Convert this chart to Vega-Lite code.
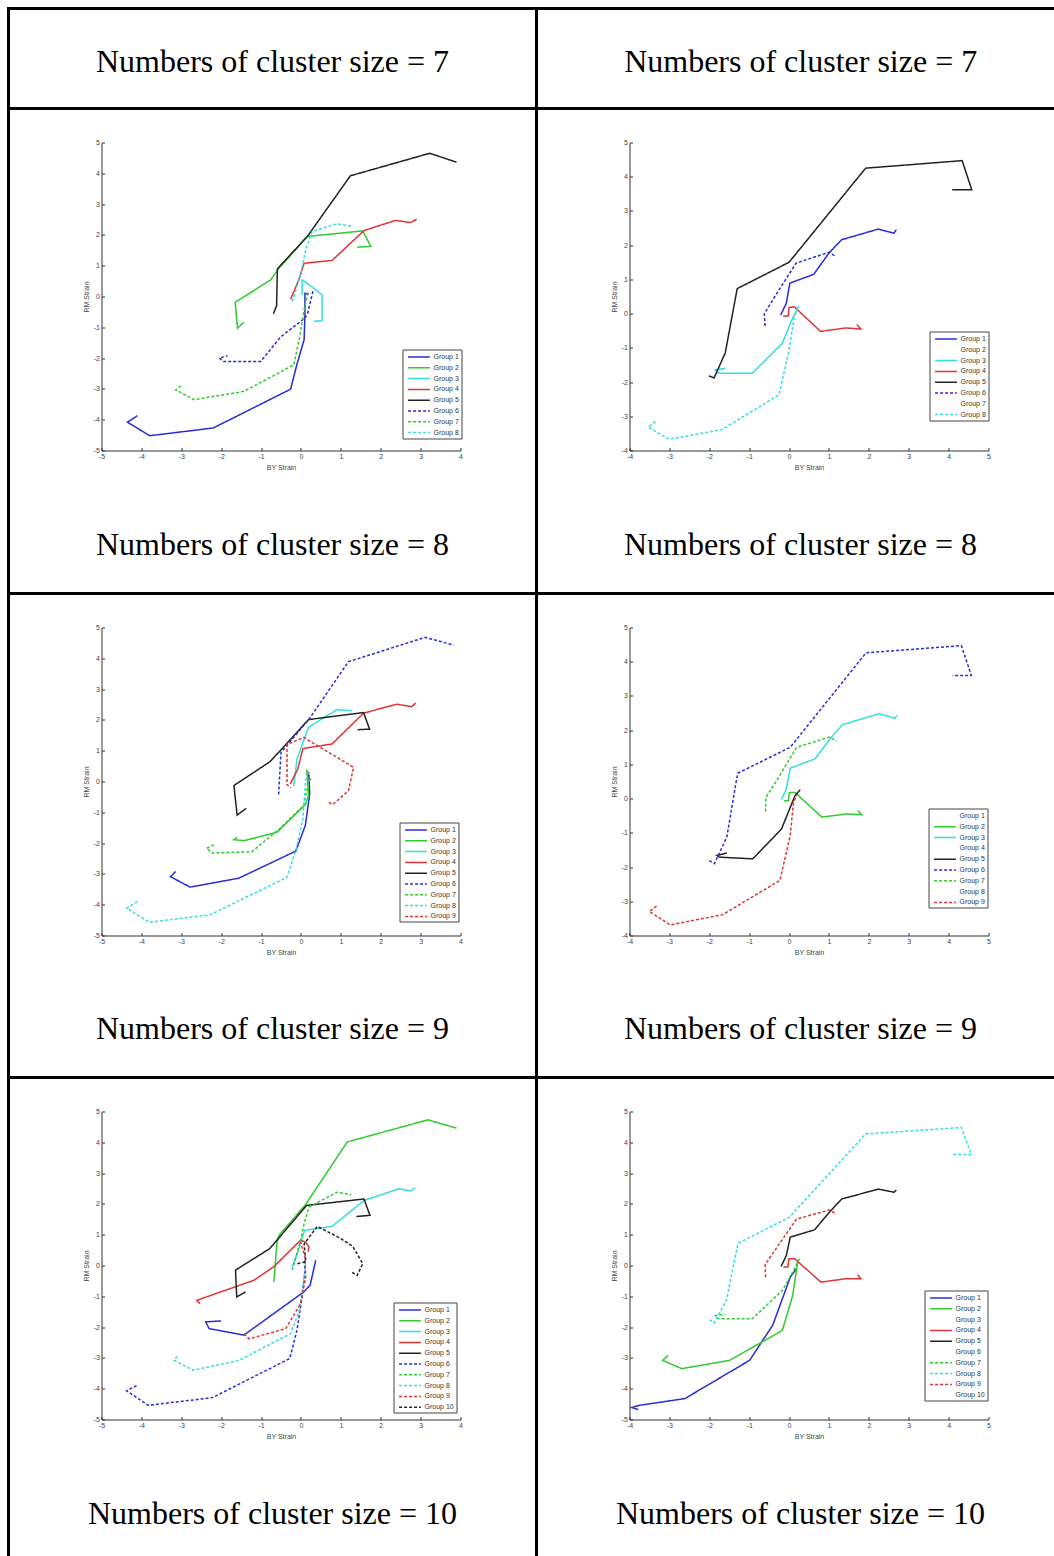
{
  "$schema": "https://vega.github.io/schema/vega-lite/v6.json",
  "padding": {"left": 6.5, "top": 6.5, "right": 0, "bottom": 0},
  "background": "white",
  "datasets": {
    "A": [
      {"g":"Group 1","x":-4.1,"y":-3.87},{"g":"Group 1","x":-4.35,"y":-4.08},{"g":"Group 1","x":-3.79,"y":-4.52},{"g":"Group 1","x":-2.2,"y":-4.27},{"g":"Group 1","x":-0.26,"y":-3.01},{"g":"Group 1","x":-0.1,"y":-2.2},{"g":"Group 1","x":0.08,"y":-1.4},{"g":"Group 1","x":0.1,"y":-0.6},{"g":"Group 1","x":0.1,"y":0.1},{"g":"Group 1","x":0.2,"y":0.08},
      {"g":"Group 2","x":-1.43,"y":-0.83},{"g":"Group 2","x":-1.59,"y":-1.03},{"g":"Group 2","x":-1.65,"y":-0.19},{"g":"Group 2","x":-0.76,"y":0.54},{"g":"Group 2","x":-0.55,"y":0.92},{"g":"Group 2","x":0.16,"y":1.95},{"g":"Group 2","x":1.55,"y":2.13},{"g":"Group 2","x":1.75,"y":1.63},{"g":"Group 2","x":1.41,"y":1.6},
      {"g":"Group 3","x":0.03,"y":0.05},{"g":"Group 3","x":0.03,"y":0.54},{"g":"Group 3","x":0.32,"y":0.27},{"g":"Group 3","x":0.53,"y":0.05},{"g":"Group 3","x":0.53,"y":-0.78},{"g":"Group 3","x":0.32,"y":-0.81},
      {"g":"Group 4","x":-0.26,"y":-0.09},{"g":"Group 4","x":-0.05,"y":0.55},{"g":"Group 4","x":0.08,"y":1.08},{"g":"Group 4","x":0.78,"y":1.17},{"g":"Group 4","x":1.58,"y":2.14},{"g":"Group 4","x":2.37,"y":2.47},{"g":"Group 4","x":2.75,"y":2.4},{"g":"Group 4","x":2.9,"y":2.51},
      {"g":"Group 5","x":-0.69,"y":-0.56},{"g":"Group 5","x":-0.61,"y":-0.3},{"g":"Group 5","x":-0.59,"y":0.9},{"g":"Group 5","x":0.16,"y":1.95},{"g":"Group 5","x":1.24,"y":3.92},{"g":"Group 5","x":3.23,"y":4.65},{"g":"Group 5","x":3.9,"y":4.36},
      {"g":"Group 6","x":0.3,"y":0.17},{"g":"Group 6","x":0.17,"y":-0.54},{"g":"Group 6","x":0.1,"y":-0.7},{"g":"Group 6","x":-0.5,"y":-1.3},{"g":"Group 6","x":-1.01,"y":-2.11},{"g":"Group 6","x":-1.93,"y":-2.11},{"g":"Group 6","x":-2.05,"y":-2.0},{"g":"Group 6","x":-1.84,"y":-1.93},
      {"g":"Group 7","x":-3.01,"y":-2.9},{"g":"Group 7","x":-3.14,"y":-3.03},{"g":"Group 7","x":-2.68,"y":-3.35},{"g":"Group 7","x":-1.43,"y":-3.08},{"g":"Group 7","x":-0.18,"y":-2.22},{"g":"Group 7","x":-0.03,"y":-1.3},{"g":"Group 7","x":0.08,"y":-0.43},{"g":"Group 7","x":0.18,"y":0.16},
      {"g":"Group 8","x":-0.22,"y":-0.16},{"g":"Group 8","x":-0.02,"y":0.65},{"g":"Group 8","x":0.12,"y":1.52},{"g":"Group 8","x":0.28,"y":2.11},{"g":"Group 8","x":0.91,"y":2.36},{"g":"Group 8","x":1.26,"y":2.29}
    ],
    "B": [
      {"g":"Group 1","x":-0.21,"y":-0.04},{"g":"Group 1","x":-0.07,"y":0.3},{"g":"Group 1","x":0.02,"y":0.89},{"g":"Group 1","x":0.62,"y":1.15},{"g":"Group 1","x":1.0,"y":1.77},{"g":"Group 1","x":1.32,"y":2.16},{"g":"Group 1","x":2.24,"y":2.47},{"g":"Group 1","x":2.63,"y":2.35},{"g":"Group 1","x":2.69,"y":2.45},
      {"g":"Group 3","x":0.25,"y":0.23},{"g":"Group 3","x":0.1,"y":-0.1},{"g":"Group 3","x":-0.17,"y":-0.87},{"g":"Group 3","x":-0.92,"y":-1.74},{"g":"Group 3","x":-1.76,"y":-1.74},{"g":"Group 3","x":-1.85,"y":-1.65},{"g":"Group 3","x":-1.6,"y":-1.6},
      {"g":"Group 4","x":-0.15,"y":-0.07},{"g":"Group 4","x":-0.02,"y":-0.07},{"g":"Group 4","x":0.0,"y":0.18},{"g":"Group 4","x":0.13,"y":0.2},{"g":"Group 4","x":0.79,"y":-0.52},{"g":"Group 4","x":1.42,"y":-0.42},{"g":"Group 4","x":1.8,"y":-0.45},{"g":"Group 4","x":1.7,"y":-0.32},
      {"g":"Group 5","x":-2.01,"y":-1.82},{"g":"Group 5","x":-1.88,"y":-1.88},{"g":"Group 5","x":-1.6,"y":-1.15},{"g":"Group 5","x":-1.3,"y":0.73},{"g":"Group 5","x":0.0,"y":1.5},{"g":"Group 5","x":1.92,"y":4.25},{"g":"Group 5","x":4.34,"y":4.47},{"g":"Group 5","x":4.58,"y":3.62},{"g":"Group 5","x":4.09,"y":3.62},
      {"g":"Group 6","x":-0.6,"y":-0.36},{"g":"Group 6","x":-0.62,"y":0.0},{"g":"Group 6","x":-0.33,"y":0.55},{"g":"Group 6","x":0.18,"y":1.48},{"g":"Group 6","x":1.0,"y":1.79},{"g":"Group 6","x":1.18,"y":1.67},
      {"g":"Group 8","x":-3.35,"y":-3.15},{"g":"Group 8","x":-3.53,"y":-3.32},{"g":"Group 8","x":-3.01,"y":-3.67},{"g":"Group 8","x":-1.68,"y":-3.39},{"g":"Group 8","x":-0.25,"y":-2.37},{"g":"Group 8","x":0.0,"y":-1.06},{"g":"Group 8","x":0.13,"y":-0.09},{"g":"Group 8","x":0.21,"y":0.16}
    ],
    "C": [
      {"g":"Group 1","x":-3.14,"y":-2.92},{"g":"Group 1","x":-3.27,"y":-3.09},{"g":"Group 1","x":-2.78,"y":-3.43},{"g":"Group 1","x":-1.56,"y":-3.14},{"g":"Group 1","x":-0.13,"y":-2.26},{"g":"Group 1","x":0.11,"y":-1.43},{"g":"Group 1","x":0.22,"y":-0.4},{"g":"Group 1","x":0.2,"y":0.2},{"g":"Group 1","x":0.15,"y":0.25},
      {"g":"Group 2","x":-1.6,"y":-1.81},{"g":"Group 2","x":-1.68,"y":-1.89},{"g":"Group 2","x":-1.43,"y":-1.92},{"g":"Group 2","x":-0.6,"y":-1.65},{"g":"Group 2","x":0.11,"y":-0.75},{"g":"Group 2","x":0.19,"y":-0.46},{"g":"Group 2","x":0.15,"y":0.35},{"g":"Group 2","x":0.22,"y":0.25},
      {"g":"Group 3","x":-0.18,"y":-0.15},{"g":"Group 3","x":-0.1,"y":0.73},{"g":"Group 3","x":0.19,"y":1.76},{"g":"Group 3","x":0.9,"y":2.33},{"g":"Group 3","x":1.28,"y":2.3},
      {"g":"Group 4","x":-0.27,"y":-0.08},{"g":"Group 4","x":-0.08,"y":0.4},{"g":"Group 4","x":0.05,"y":1.07},{"g":"Group 4","x":0.78,"y":1.22},{"g":"Group 4","x":1.57,"y":2.22},{"g":"Group 4","x":2.4,"y":2.51},{"g":"Group 4","x":2.78,"y":2.43},{"g":"Group 4","x":2.88,"y":2.55},
      {"g":"Group 5","x":-1.37,"y":-0.87},{"g":"Group 5","x":-1.6,"y":-1.09},{"g":"Group 5","x":-1.68,"y":-0.13},{"g":"Group 5","x":-0.78,"y":0.64},{"g":"Group 5","x":-0.52,"y":1.0},{"g":"Group 5","x":0.19,"y":2.01},{"g":"Group 5","x":1.57,"y":2.24},{"g":"Group 5","x":1.72,"y":1.7},{"g":"Group 5","x":1.42,"y":1.68},
      {"g":"Group 6","x":-0.56,"y":-0.42},{"g":"Group 6","x":-0.5,"y":0.95},{"g":"Group 6","x":0.19,"y":2.0},{"g":"Group 6","x":1.19,"y":3.89},{"g":"Group 6","x":3.11,"y":4.68},{"g":"Group 6","x":3.83,"y":4.43},
      {"g":"Group 7","x":-2.18,"y":-2.06},{"g":"Group 7","x":-2.37,"y":-2.17},{"g":"Group 7","x":-2.23,"y":-2.32},{"g":"Group 7","x":-1.23,"y":-2.28},{"g":"Group 7","x":-0.55,"y":-1.55},{"g":"Group 7","x":0.07,"y":-0.78},{"g":"Group 7","x":0.19,"y":-0.02},{"g":"Group 7","x":0.28,"y":0.14},
      {"g":"Group 8","x":-4.1,"y":-3.9},{"g":"Group 8","x":-4.37,"y":-4.11},{"g":"Group 8","x":-3.81,"y":-4.57},{"g":"Group 8","x":-2.28,"y":-4.33},{"g":"Group 8","x":-0.35,"y":-3.11},{"g":"Group 8","x":-0.12,"y":-2.2},{"g":"Group 8","x":0.05,"y":-1.2},{"g":"Group 8","x":0.1,"y":-0.3},{"g":"Group 8","x":0.12,"y":0.1},
      {"g":"Group 9","x":0.7,"y":-0.68},{"g":"Group 9","x":0.8,"y":-0.75},{"g":"Group 9","x":1.19,"y":-0.3},{"g":"Group 9","x":1.32,"y":0.46},{"g":"Group 9","x":0.07,"y":1.43},{"g":"Group 9","x":-0.35,"y":1.2},{"g":"Group 9","x":-0.35,"y":-0.1},{"g":"Group 9","x":-0.25,"y":-0.2}
    ],
    "D": [
      {"g":"Group 2","x":-0.13,"y":-0.06},{"g":"Group 2","x":-0.02,"y":-0.06},{"g":"Group 2","x":0.01,"y":0.18},{"g":"Group 2","x":0.15,"y":0.18},{"g":"Group 2","x":0.82,"y":-0.54},{"g":"Group 2","x":1.44,"y":-0.45},{"g":"Group 2","x":1.82,"y":-0.47},{"g":"Group 2","x":1.73,"y":-0.35},
      {"g":"Group 3","x":-0.19,"y":-0.03},{"g":"Group 3","x":-0.07,"y":0.28},{"g":"Group 3","x":0.03,"y":0.89},{"g":"Group 3","x":0.65,"y":1.16},{"g":"Group 3","x":1.03,"y":1.75},{"g":"Group 3","x":1.34,"y":2.16},{"g":"Group 3","x":2.26,"y":2.48},{"g":"Group 3","x":2.65,"y":2.35},{"g":"Group 3","x":2.71,"y":2.43},
      {"g":"Group 5","x":0.28,"y":0.26},{"g":"Group 5","x":0.15,"y":0.09},{"g":"Group 5","x":-0.19,"y":-0.89},{"g":"Group 5","x":-0.91,"y":-1.76},{"g":"Group 5","x":-1.75,"y":-1.71},{"g":"Group 5","x":-1.81,"y":-1.66},{"g":"Group 5","x":-1.56,"y":-1.59},
      {"g":"Group 6","x":-2.0,"y":-1.81},{"g":"Group 6","x":-1.87,"y":-1.9},{"g":"Group 6","x":-1.56,"y":-1.12},{"g":"Group 6","x":-1.29,"y":0.74},{"g":"Group 6","x":0.03,"y":1.5},{"g":"Group 6","x":1.93,"y":4.26},{"g":"Group 6","x":4.32,"y":4.47},{"g":"Group 6","x":4.57,"y":3.6},{"g":"Group 6","x":4.1,"y":3.6},
      {"g":"Group 7","x":-0.59,"y":-0.38},{"g":"Group 7","x":-0.58,"y":0.04},{"g":"Group 7","x":-0.31,"y":0.53},{"g":"Group 7","x":0.19,"y":1.5},{"g":"Group 7","x":1.02,"y":1.8},{"g":"Group 7","x":1.19,"y":1.67},
      {"g":"Group 9","x":-3.32,"y":-3.14},{"g":"Group 9","x":-3.5,"y":-3.3},{"g":"Group 9","x":-2.98,"y":-3.69},{"g":"Group 9","x":-1.66,"y":-3.39},{"g":"Group 9","x":-0.23,"y":-2.39},{"g":"Group 9","x":0.03,"y":-1.08},{"g":"Group 9","x":0.11,"y":-0.11},{"g":"Group 9","x":0.19,"y":0.09}
    ],
    "E": [
      {"g":"Group 1","x":-2.0,"y":-1.8},{"g":"Group 1","x":-2.39,"y":-1.83},{"g":"Group 1","x":-2.3,"y":-2.05},{"g":"Group 1","x":-1.43,"y":-2.26},{"g":"Group 1","x":0.07,"y":-0.86},{"g":"Group 1","x":0.23,"y":-0.64},{"g":"Group 1","x":0.37,"y":0.17},
      {"g":"Group 2","x":-0.68,"y":-0.53},{"g":"Group 2","x":-0.6,"y":0.75},{"g":"Group 2","x":-0.55,"y":0.98},{"g":"Group 2","x":0.1,"y":1.95},{"g":"Group 2","x":1.16,"y":4.01},{"g":"Group 2","x":3.18,"y":4.73},{"g":"Group 2","x":3.9,"y":4.46},
      {"g":"Group 3","x":-0.22,"y":-0.04},{"g":"Group 3","x":-0.09,"y":0.39},{"g":"Group 3","x":0.09,"y":1.14},{"g":"Group 3","x":0.78,"y":1.27},{"g":"Group 3","x":1.58,"y":2.11},{"g":"Group 3","x":2.45,"y":2.49},{"g":"Group 3","x":2.75,"y":2.42},{"g":"Group 3","x":2.87,"y":2.52},
      {"g":"Group 4","x":-2.53,"y":-1.24},{"g":"Group 4","x":-2.61,"y":-1.13},{"g":"Group 4","x":-1.18,"y":-0.48},{"g":"Group 4","x":-0.68,"y":-0.04},{"g":"Group 4","x":-0.01,"y":0.82},{"g":"Group 4","x":0.12,"y":0.76},{"g":"Group 4","x":0.2,"y":0.6},{"g":"Group 4","x":0.18,"y":0.45},
      {"g":"Group 5","x":-1.39,"y":-0.86},{"g":"Group 5","x":-1.61,"y":-1.02},{"g":"Group 5","x":-1.64,"y":-0.15},{"g":"Group 5","x":-0.78,"y":0.55},{"g":"Group 5","x":-0.55,"y":0.9},{"g":"Group 5","x":0.14,"y":1.95},{"g":"Group 5","x":1.58,"y":2.16},{"g":"Group 5","x":1.73,"y":1.63},{"g":"Group 5","x":1.39,"y":1.59},
      {"g":"Group 6","x":-4.12,"y":-3.9},{"g":"Group 6","x":-4.37,"y":-4.07},{"g":"Group 6","x":-3.83,"y":-4.54},{"g":"Group 6","x":-2.22,"y":-4.29},{"g":"Group 6","x":-0.28,"y":-3.02},{"g":"Group 6","x":-0.1,"y":-2.1},{"g":"Group 6","x":0.03,"y":-1.02},{"g":"Group 6","x":0.1,"y":-0.2},{"g":"Group 6","x":0.1,"y":0.17},
      {"g":"Group 7","x":-0.22,"y":-0.15},{"g":"Group 7","x":-0.12,"y":0.3},{"g":"Group 7","x":-0.01,"y":0.82},{"g":"Group 7","x":0.08,"y":1.36},{"g":"Group 7","x":0.2,"y":1.9},{"g":"Group 7","x":0.91,"y":2.38},{"g":"Group 7","x":1.26,"y":2.3},
      {"g":"Group 8","x":-3.1,"y":-2.95},{"g":"Group 8","x":-3.18,"y":-3.08},{"g":"Group 8","x":-2.7,"y":-3.4},{"g":"Group 8","x":-1.55,"y":-3.08},{"g":"Group 8","x":-0.26,"y":-2.21},{"g":"Group 8","x":-0.05,"y":-1.5},{"g":"Group 8","x":0.05,"y":-0.7},{"g":"Group 8","x":0.12,"y":0.1},
      {"g":"Group 9","x":-1.43,"y":-2.22},{"g":"Group 9","x":-1.3,"y":-2.38},{"g":"Group 9","x":-0.38,"y":-2.05},{"g":"Group 9","x":-0.01,"y":-1.24},{"g":"Group 9","x":0.12,"y":-0.37},{"g":"Group 9","x":0.1,"y":0.3},{"g":"Group 9","x":-0.01,"y":0.76},
      {"g":"Group 10","x":-0.09,"y":0.06},{"g":"Group 10","x":0.12,"y":0.12},{"g":"Group 10","x":0.08,"y":0.7},{"g":"Group 10","x":0.41,"y":1.27},{"g":"Group 10","x":0.99,"y":0.88},{"g":"Group 10","x":1.3,"y":0.62},{"g":"Group 10","x":1.55,"y":0.06},{"g":"Group 10","x":1.41,"y":-0.32},{"g":"Group 10","x":1.26,"y":-0.2}
    ],
    "F": [
      {"g":"Group 1","x":-3.78,"y":-4.68},{"g":"Group 1","x":-3.94,"y":-4.61},{"g":"Group 1","x":-3.75,"y":-4.54},{"g":"Group 1","x":-2.61,"y":-4.32},{"g":"Group 1","x":-0.99,"y":-3.08},{"g":"Group 1","x":-0.41,"y":-1.94},{"g":"Group 1","x":0.03,"y":-0.38},{"g":"Group 1","x":0.18,"y":-0.11},
      {"g":"Group 2","x":-3.03,"y":-2.92},{"g":"Group 2","x":-3.17,"y":-3.08},{"g":"Group 2","x":-2.69,"y":-3.35},{"g":"Group 2","x":-1.49,"y":-3.08},{"g":"Group 2","x":-0.17,"y":-2.11},{"g":"Group 2","x":0.09,"y":-0.98},{"g":"Group 2","x":0.22,"y":0.14},
      {"g":"Group 4","x":-0.14,"y":-0.05},{"g":"Group 4","x":-0.03,"y":-0.05},{"g":"Group 4","x":0.0,"y":0.22},{"g":"Group 4","x":0.14,"y":0.22},{"g":"Group 4","x":0.8,"y":-0.54},{"g":"Group 4","x":1.42,"y":-0.43},{"g":"Group 4","x":1.8,"y":-0.43},{"g":"Group 4","x":1.72,"y":-0.3},
      {"g":"Group 5","x":-0.2,"y":-0.03},{"g":"Group 5","x":-0.07,"y":0.32},{"g":"Group 5","x":0.03,"y":0.92},{"g":"Group 5","x":0.64,"y":1.16},{"g":"Group 5","x":1.01,"y":1.73},{"g":"Group 5","x":1.32,"y":2.16},{"g":"Group 5","x":2.24,"y":2.48},{"g":"Group 5","x":2.63,"y":2.38},{"g":"Group 5","x":2.69,"y":2.45},
      {"g":"Group 7","x":0.26,"y":0.22},{"g":"Group 7","x":0.09,"y":-0.22},{"g":"Group 7","x":-0.17,"y":-0.81},{"g":"Group 7","x":-0.92,"y":-1.73},{"g":"Group 7","x":-1.78,"y":-1.73},{"g":"Group 7","x":-1.85,"y":-1.63},{"g":"Group 7","x":-1.6,"y":-1.58},
      {"g":"Group 8","x":-1.99,"y":-1.76},{"g":"Group 8","x":-1.88,"y":-1.87},{"g":"Group 8","x":-1.57,"y":-1.13},{"g":"Group 8","x":-1.28,"y":0.72},{"g":"Group 8","x":0.01,"y":1.57},{"g":"Group 8","x":1.92,"y":4.27},{"g":"Group 8","x":4.32,"y":4.48},{"g":"Group 8","x":4.57,"y":3.6},{"g":"Group 8","x":4.09,"y":3.6},
      {"g":"Group 9","x":-0.59,"y":-0.38},{"g":"Group 9","x":-0.6,"y":0.03},{"g":"Group 9","x":-0.33,"y":0.54},{"g":"Group 9","x":0.19,"y":1.51},{"g":"Group 9","x":1.01,"y":1.8},{"g":"Group 9","x":1.19,"y":1.67}
    ]
  },
  "columns": 2,
  "spacing": 0,
  "bounds": "flush",
  "resolve": {"scale": {"color": "independent", "strokeDash": "independent"}, "legend": {"color": "independent", "strokeDash": "independent"}},
  "concat": [
    {"width": 528, "height": 100, "data": {"values": [{"t": "Numbers of cluster size = 7"}]}, "mark": {"type": "text", "font": "Liberation Serif", "fontSize": 32, "baseline": "middle", "align": "center", "color": "black"}, "encoding": {"text": {"field": "t"}, "x": {"datum": 0.5, "type": "quantitative", "scale": {"domain": [0, 1]}, "axis": null}, "y": {"datum": 0.47, "type": "quantitative", "scale": {"domain": [0, 1]}, "axis": null}}},
    {"width": 520, "height": 100, "data": {"values": [{"t": "Numbers of cluster size = 7"}]}, "mark": {"type": "text", "font": "Liberation Serif", "fontSize": 32, "baseline": "middle", "align": "center", "color": "black"}, "encoding": {"text": {"field": "t"}, "x": {"datum": 0.508, "type": "quantitative", "scale": {"domain": [0, 1]}, "axis": null}, "y": {"datum": 0.47, "type": "quantitative", "scale": {"domain": [0, 1]}, "axis": null}}},
    {
      "width": 528, "height": 485, "data": {"name": "A"},
      "title": {"text": "Numbers of cluster size = 8"},
      "mark": {"type": "line", "strokeWidth": 1.5},
      "encoding": {
        "x": {"field": "x", "type": "quantitative", "scale": {"domain": [-5, 4], "range": [93, 452], "nice": false, "zero": false}, "axis": {"title": "BY Strain", "values": [-5,-4,-3,-2,-1,0,1,2,3,4], "offset": -143}},
        "y": {"field": "y", "type": "quantitative", "scale": {"domain": [-5, 5], "range": [342, 34], "nice": false, "zero": false}, "axis": {"title": "RM Strain", "values": [-5,-4,-3,-2,-1,0,1,2,3,4,5], "offset": -93}},
        "color": {"field": "g", "type": "nominal", "scale": {"domain": ["Group 1","Group 2","Group 3","Group 4","Group 5","Group 6","Group 7","Group 8"], "range": ["#2b2bd6","#2ecc2e","#33dede","#e03333","#222222","#2b2bd6","#2ecc2e","#33dede"]}, "legend": {"orient": "none", "legendX": 394, "legendY": 241, "title": null}},
        "strokeDash": {"field": "g", "type": "nominal", "scale": {"domain": ["Group 1","Group 2","Group 3","Group 4","Group 5","Group 6","Group 7","Group 8"], "range": [[1,0],[1,0],[1,0],[1,0],[1,0],[3,2],[3,2],[3,2]]}, "legend": {"orient": "none", "legendX": 394, "legendY": 241, "title": null}},
        "order": {"value": null}
      }
    },
    {
      "width": 520, "height": 485, "data": {"name": "B"},
      "title": {"text": "Numbers of cluster size = 8", "dx": 4},
      "mark": {"type": "line", "strokeWidth": 1.5},
      "encoding": {
        "x": {"field": "x", "type": "quantitative", "scale": {"domain": [-4, 5], "range": [93, 452], "nice": false, "zero": false}, "axis": {"title": "BY Strain", "values": [-4,-3,-2,-1,0,1,2,3,4,5], "offset": -143}},
        "y": {"field": "y", "type": "quantitative", "scale": {"domain": [-4, 5], "range": [342, 34], "nice": false, "zero": false}, "axis": {"title": "RM Strain", "values": [-4,-3,-2,-1,0,1,2,3,4,5], "offset": -93}},
        "color": {"field": "g", "type": "nominal", "scale": {"domain": ["Group 1","Group 2","Group 3","Group 4","Group 5","Group 6","Group 7","Group 8"], "range": ["#2b2bd6","#ffffff","#33dede","#e03333","#222222","#2b2bd6","#ffffff","#33dede"]}, "legend": {"orient": "none", "legendX": 393, "legendY": 223, "title": null}},
        "strokeDash": {"field": "g", "type": "nominal", "scale": {"domain": ["Group 1","Group 2","Group 3","Group 4","Group 5","Group 6","Group 7","Group 8"], "range": [[1,0],[1,0],[1,0],[1,0],[1,0],[3,2],[3,2],[3,2]]}, "legend": {"orient": "none", "legendX": 393, "legendY": 223, "title": null}},
        "order": {"value": null}
      }
    },
    {
      "width": 528, "height": 484, "data": {"name": "C"},
      "title": {"text": "Numbers of cluster size = 9"},
      "mark": {"type": "line", "strokeWidth": 1.5},
      "encoding": {
        "x": {"field": "x", "type": "quantitative", "scale": {"domain": [-5, 4], "range": [93, 452], "nice": false, "zero": false}, "axis": {"title": "BY Strain", "values": [-5,-4,-3,-2,-1,0,1,2,3,4], "offset": -142}},
        "y": {"field": "y", "type": "quantitative", "scale": {"domain": [-5, 5], "range": [342, 34], "nice": false, "zero": false}, "axis": {"title": "RM Strain", "values": [-5,-4,-3,-2,-1,0,1,2,3,4,5], "offset": -93}},
        "color": {"field": "g", "type": "nominal", "scale": {"domain": ["Group 1","Group 2","Group 3","Group 4","Group 5","Group 6","Group 7","Group 8","Group 9"], "range": ["#2b2bd6","#2ecc2e","#33dede","#e03333","#222222","#2b2bd6","#2ecc2e","#33dede","#e03333"]}, "legend": {"orient": "none", "legendX": 391, "legendY": 229, "title": null}},
        "strokeDash": {"field": "g", "type": "nominal", "scale": {"domain": ["Group 1","Group 2","Group 3","Group 4","Group 5","Group 6","Group 7","Group 8","Group 9"], "range": [[1,0],[1,0],[1,0],[1,0],[1,0],[3,2],[3,2],[3,2],[3,2]]}, "legend": {"orient": "none", "legendX": 391, "legendY": 229, "title": null}},
        "order": {"value": null}
      }
    },
    {
      "width": 520, "height": 484, "data": {"name": "D"},
      "title": {"text": "Numbers of cluster size = 9", "dx": 4},
      "mark": {"type": "line", "strokeWidth": 1.5},
      "encoding": {
        "x": {"field": "x", "type": "quantitative", "scale": {"domain": [-4, 5], "range": [93, 452], "nice": false, "zero": false}, "axis": {"title": "BY Strain", "values": [-4,-3,-2,-1,0,1,2,3,4,5], "offset": -142}},
        "y": {"field": "y", "type": "quantitative", "scale": {"domain": [-4, 5], "range": [342, 34], "nice": false, "zero": false}, "axis": {"title": "RM Strain", "values": [-4,-3,-2,-1,0,1,2,3,4,5], "offset": -93}},
        "color": {"field": "g", "type": "nominal", "scale": {"domain": ["Group 1","Group 2","Group 3","Group 4","Group 5","Group 6","Group 7","Group 8","Group 9"], "range": ["#ffffff","#2ecc2e","#33dede","#ffffff","#222222","#2b2bd6","#2ecc2e","#ffffff","#e03333"]}, "legend": {"orient": "none", "legendX": 392, "legendY": 215, "title": null}},
        "strokeDash": {"field": "g", "type": "nominal", "scale": {"domain": ["Group 1","Group 2","Group 3","Group 4","Group 5","Group 6","Group 7","Group 8","Group 9"], "range": [[1,0],[1,0],[1,0],[1,0],[1,0],[3,2],[3,2],[3,2],[3,2]]}, "legend": {"orient": "none", "legendX": 392, "legendY": 215, "title": null}},
        "order": {"value": null}
      }
    },
    {
      "width": 528, "height": 485, "data": {"name": "E"},
      "title": {"text": "Numbers of cluster size = 10"},
      "mark": {"type": "line", "strokeWidth": 1.5},
      "encoding": {
        "x": {"field": "x", "type": "quantitative", "scale": {"domain": [-5, 4], "range": [93, 452], "nice": false, "zero": false}, "axis": {"title": "BY Strain", "values": [-5,-4,-3,-2,-1,0,1,2,3,4], "offset": -143}},
        "y": {"field": "y", "type": "quantitative", "scale": {"domain": [-5, 5], "range": [342, 34], "nice": false, "zero": false}, "axis": {"title": "RM Strain", "values": [-5,-4,-3,-2,-1,0,1,2,3,4,5], "offset": -93}},
        "color": {"field": "g", "type": "nominal", "scale": {"domain": ["Group 1","Group 2","Group 3","Group 4","Group 5","Group 6","Group 7","Group 8","Group 9","Group 10"], "range": ["#2b2bd6","#2ecc2e","#33dede","#e03333","#222222","#2b2bd6","#2ecc2e","#33dede","#e03333","#222222"]}, "legend": {"orient": "none", "legendX": 385, "legendY": 225, "title": null}},
        "strokeDash": {"field": "g", "type": "nominal", "scale": {"domain": ["Group 1","Group 2","Group 3","Group 4","Group 5","Group 6","Group 7","Group 8","Group 9","Group 10"], "range": [[1,0],[1,0],[1,0],[1,0],[1,0],[3,2],[3,2],[3,2],[3,2],[3,2]]}, "legend": {"orient": "none", "legendX": 385, "legendY": 225, "title": null}},
        "order": {"value": null}
      }
    },
    {
      "width": 520, "height": 485, "data": {"name": "F"},
      "title": {"text": "Numbers of cluster size = 10", "dx": 4},
      "mark": {"type": "line", "strokeWidth": 1.5},
      "encoding": {
        "x": {"field": "x", "type": "quantitative", "scale": {"domain": [-4, 5], "range": [93, 452], "nice": false, "zero": false}, "axis": {"title": "BY Strain", "values": [-4,-3,-2,-1,0,1,2,3,4,5], "offset": -143}},
        "y": {"field": "y", "type": "quantitative", "scale": {"domain": [-5, 5], "range": [342, 34], "nice": false, "zero": false}, "axis": {"title": "RM Strain", "values": [-5,-4,-3,-2,-1,0,1,2,3,4,5], "offset": -93}},
        "color": {"field": "g", "type": "nominal", "scale": {"domain": ["Group 1","Group 2","Group 3","Group 4","Group 5","Group 6","Group 7","Group 8","Group 9","Group 10"], "range": ["#2b2bd6","#2ecc2e","#ffffff","#e03333","#222222","#ffffff","#2ecc2e","#33dede","#e03333","#ffffff"]}, "legend": {"orient": "none", "legendX": 388, "legendY": 213, "title": null}},
        "strokeDash": {"field": "g", "type": "nominal", "scale": {"domain": ["Group 1","Group 2","Group 3","Group 4","Group 5","Group 6","Group 7","Group 8","Group 9","Group 10"], "range": [[1,0],[1,0],[1,0],[1,0],[1,0],[3,2],[3,2],[3,2],[3,2],[3,2]]}, "legend": {"orient": "none", "legendX": 388, "legendY": 213, "title": null}},
        "order": {"value": null}
      }
    }
  ],
  "config": {
    "view": {"stroke": "black", "strokeWidth": 3},
    "axis": {"grid": false, "domainColor": "#333333", "tickColor": "#333333", "tickSize": -3, "labelPadding": 5, "labelFontSize": 7, "labelFont": "Liberation Sans", "labelColor": "#444444", "labelFlush": false, "labelOverlap": false, "labelExpr": "'' + datum.value", "titleFont": "Liberation Sans", "titleFontSize": 7, "titleFontWeight": "normal", "titleColor": "#444444", "titlePadding": 4},
    "legend": {"symbolType": "M-2.3,0H2.3", "symbolSize": 90, "symbolStrokeWidth": 1.5, "symbolOffset": 9, "labelOffset": 9, "labelFontSize": 7, "labelFont": "Liberation Sans", "labelColor": "#333333", "padding": 2, "rowPadding": 1.8, "strokeColor": "#444444", "fillColor": "white", "labelLimit": 80},
    "title": {"font": "Liberation Serif", "fontSize": 32, "fontWeight": "normal", "color": "black", "orient": "bottom", "offset": -64, "anchor": "middle"}
  }
}
